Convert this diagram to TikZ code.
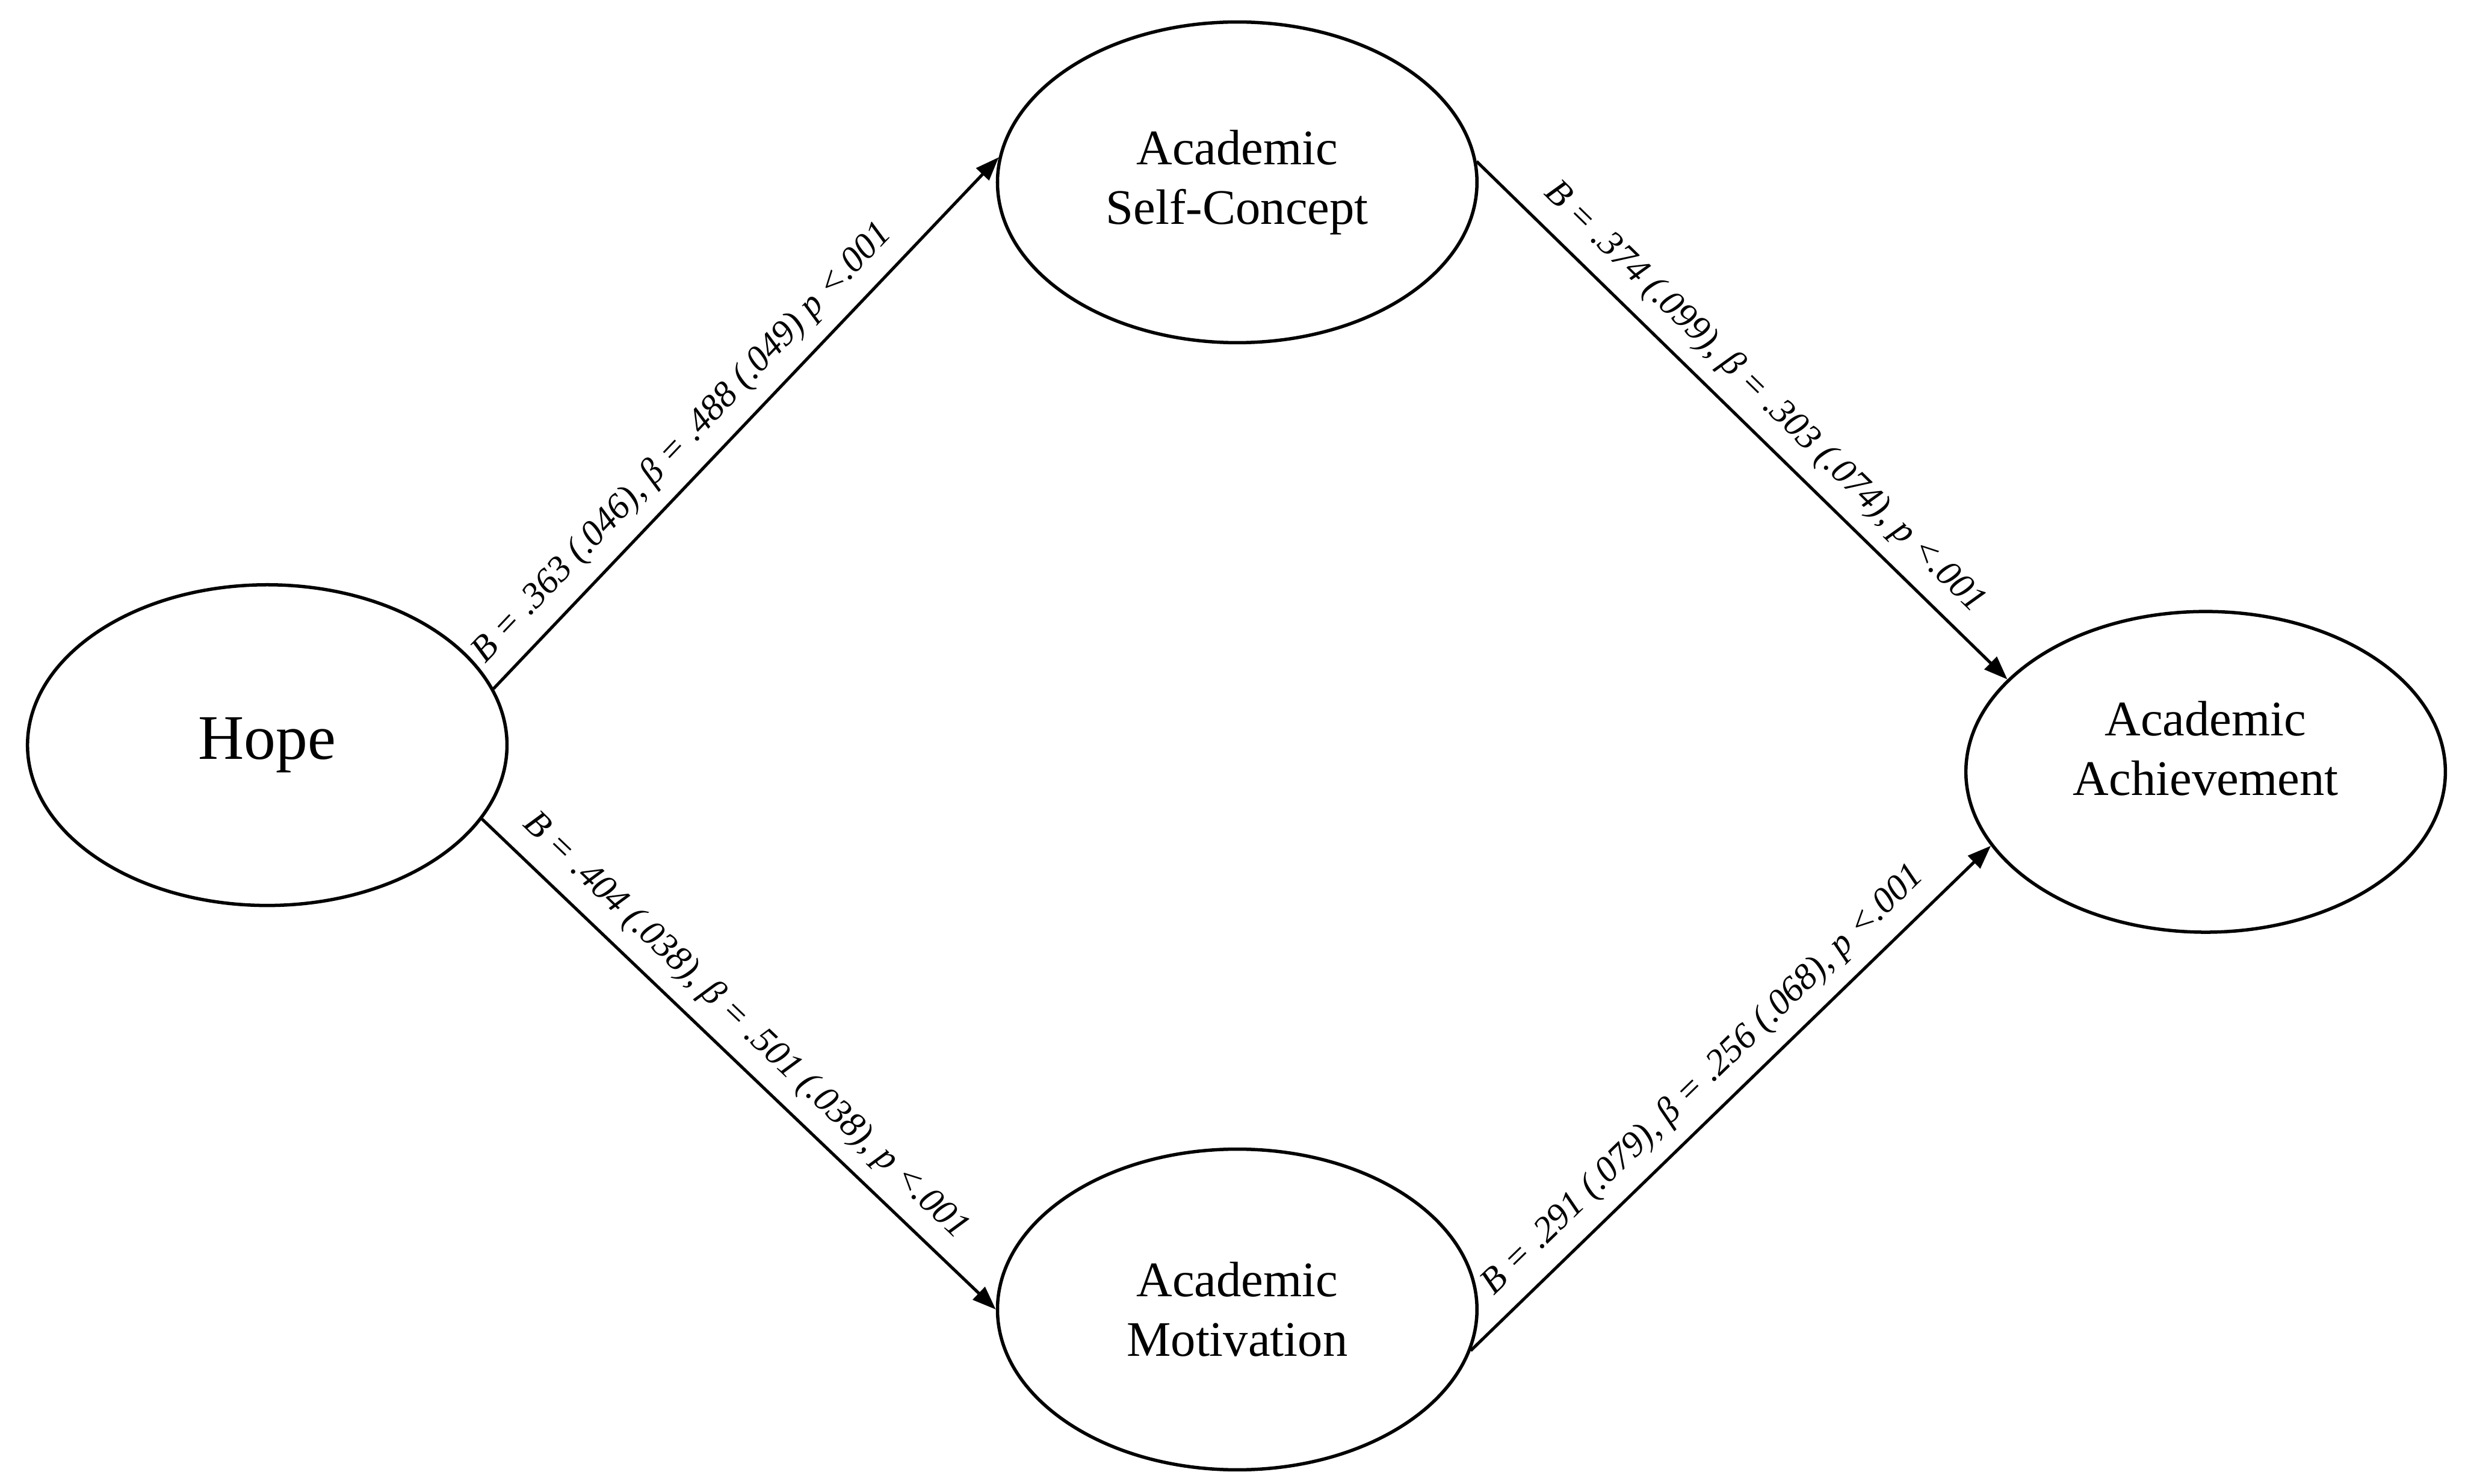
\documentclass[tikz,border=0pt]{standalone}
\usepackage{fontspec}
\setmainfont{Liberation Serif}
\usetikzlibrary{shapes,arrows.meta,positioning}

\begin{document}
\begin{tikzpicture}[
  var/.style={ellipse, draw, line width=0.6pt, minimum width=3.05cm, minimum height=2.04cm, inner sep=0pt, align=center, font=\fontsize{9}{10.8}\selectfont},
  path/.style={-{Triangle[length=1.5mm, width=1.1mm]}, line width=0.55pt},
  coef/.style={sloped, above, inner sep=2.5pt, font=\fontsize{6.6}{7.5}\selectfont\itshape}
]
  \useasboundingbox (0,0) rectangle (15.68,9.44);

  \node[var, font=\fontsize{11.5}{13}\selectfont] (hope) at (1.70,4.70) {Hope};
  \node[var] (concept) at (7.87,8.28) {Academic\\Self-Concept};
  \node[var] (motiv) at (7.87,1.11) {Academic\\Motivation};
  \node[var, text depth=0.3cm] (achieve) at (14.03,4.53) {Academic\\Achievement};

  \draw[path] (hope.14) -- node[coef, pos=0.42] {B = .363 (.046), β = .488 (.049) p <.001} (concept.174);
  \draw[path] (concept.5) -- node[coef, pos=0.5] {B = .374 (.099), β = .303 (.074), p <.001} (achieve.155);
  \draw[path] (hope.-19) -- node[coef, pos=0.47] {B = .404 (.038), β = .501 (.038), p <.001} (motiv.180);
  \draw[path] (motiv.-10) -- node[coef, pos=0.49] {B = .291 (.079), β = .256 (.068), p <.001} (achieve.199);
\end{tikzpicture}
\end{document}
